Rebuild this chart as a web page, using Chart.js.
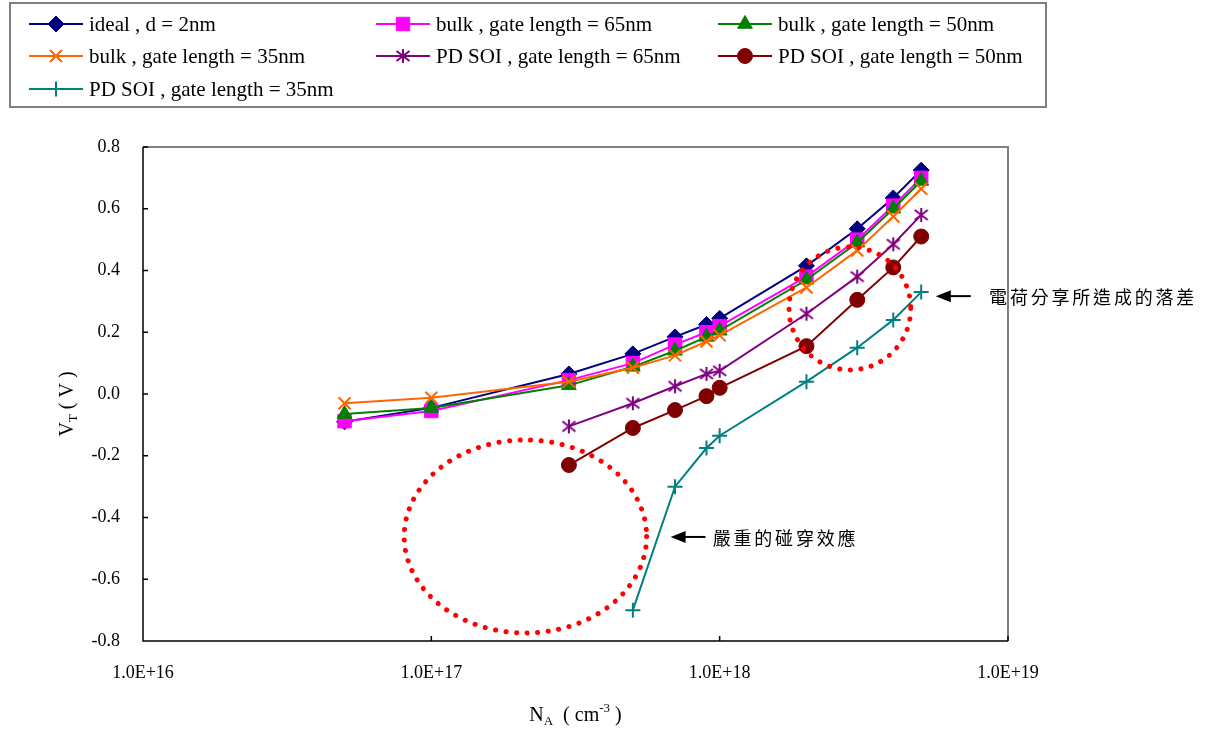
<!DOCTYPE html>
<html>
<head>
<meta charset="utf-8">
<script src="https://cdn.jsdelivr.net/npm/chart.js@4/dist/chart.umd.min.js"></script>
<style>
  html, body { margin: 0; padding: 0; background: #fff; }
  canvas { display: block; }
</style>
</head>
<body>
<canvas id="vtChart" width="1215" height="731"></canvas>
<script>
// doping concentration (cm^-3)
const nA = [5e16, 1e17, 3e17, 5e17, 7e17, 9e17, 1e18, 2e18, 3e18, 4e18, 5e18];
const xTicks = [1e16, 1e17, 1e18, 1e19];
const yTicks = [-0.8, -0.6, -0.4, -0.2, 0, 0.2, 0.4, 0.6, 0.8];

// threshold voltage (V)
const ideal  = [-0.09, -0.045, 0.065, 0.13, 0.185, 0.225, 0.245, 0.415, 0.535, 0.635, 0.725];
const bulk65 = [-0.088, -0.055, 0.045, 0.10, 0.16, 0.20, 0.22, 0.38, 0.50, 0.61, 0.70];
const bulk50 = [-0.065, -0.045, 0.028, 0.088, 0.14, 0.185, 0.205, 0.37, 0.49, 0.60, 0.69];
const bulk35 = [-0.03, -0.012, 0.04, 0.085, 0.125, 0.17, 0.19, 0.345, 0.465, 0.575, 0.665];
const soi65  = [null, null, -0.105, -0.03, 0.025, 0.065, 0.075, 0.26, 0.38, 0.485, 0.58];
const soi50  = [null, null, -0.23, -0.11, -0.052, -0.007, 0.02, 0.155, 0.305, 0.41, 0.51];
const soi35  = [null, null, null, -0.70, -0.30, -0.175, -0.135, 0.04, 0.15, 0.24, 0.33];

const labels = [
  "ideal , d = 2nm",
  "bulk , gate length = 65nm",
  "bulk , gate length = 50nm",
  "bulk , gate length = 35nm",
  "PD SOI , gate length = 65nm",
  "PD SOI , gate length = 50nm",
  "PD SOI , gate length = 35nm"
];

// annotations, in data units
const bigRing = { x0: 8.05e16, x1: 5.58e17, y0: -0.149, y1: -0.774 };
const smallRing = { x0: 1.74e18, x1: 4.6e18, y0: 0.476, y1: 0.078 };
const note1 = { tip: 5.62e18, tail: 7.43e18, text: 8.6e18, y: 0.317, label: "電荷分享所造成的落差" };
const note2 = { tip: 6.76e17, tail: 8.93e17, text: 9.46e17, y: -0.463, label: "嚴重的碰穿效應" };

function makeStar(color) {
  const c = document.createElement("canvas");
  c.width = 16;
  c.height = 16;
  const g = c.getContext("2d");
  g.strokeStyle = color;
  g.lineWidth = 2;
  g.beginPath();
  g.moveTo(8, 1); g.lineTo(8, 15);
  g.moveTo(1.5, 3); g.lineTo(14.5, 13);
  g.moveTo(14.5, 3); g.lineTo(1.5, 13);
  g.stroke();
  return c;
}

function pts(vals) {
  const out = [];
  vals.forEach((v, i) => { if (v !== null) out.push({ x: nA[i], y: v }); });
  return out;
}

const styles = [
  { color: "#000080", pointStyle: "rectRot", radius: 8 },
  { color: "#FF00FF", pointStyle: "rect", radius: 9.5 },
  { color: "#008000", pointStyle: "triangle", radius: 8.5 },
  { color: "#FF6600", pointStyle: "crossRot", radius: 8.5 },
  { color: "#800080", pointStyle: makeStar("#800080"), radius: 8 },
  { color: "#800000", pointStyle: "circle", radius: 7.5 },
  { color: "#008080", pointStyle: "cross", radius: 7.5 }
];
const series = [ideal, bulk65, bulk50, bulk35, soi65, soi50, soi35];

const datasets = series.map((s, i) => ({
  label: labels[i],
  data: pts(s),
  borderColor: styles[i].color,
  backgroundColor: styles[i].color,
  borderWidth: 2,
  pointStyle: styles[i].pointStyle,
  pointRadius: styles[i].radius,
  pointBorderWidth: (styles[i].pointStyle === "cross" || styles[i].pointStyle === "crossRot") ? 2 : 1,
  pointBorderColor: styles[i].color,
  pointBackgroundColor: styles[i].color,
  tension: 0,
  fill: false,
  order: 10 - i,
  clip: false
}));

const SERIF = "'Liberation Serif', 'Times New Roman', serif";
const CJK = "'Noto Sans CJK TC', 'Noto Sans CJK SC', sans-serif";

const framePlugin = {
  id: "frame",
  beforeDatasetsDraw(chart) {
    const { ctx, chartArea: a, scales } = chart;
    ctx.save();
    ctx.lineWidth = 2;
    ctx.strokeStyle = "#808080";
    ctx.beginPath();
    ctx.moveTo(a.left, a.top); ctx.lineTo(a.right, a.top); ctx.lineTo(a.right, a.bottom);
    ctx.stroke();
    ctx.strokeStyle = "#000";
    ctx.lineWidth = 1.5;
    ctx.beginPath();
    ctx.moveTo(a.left, a.top); ctx.lineTo(a.left, a.bottom); ctx.lineTo(a.right, a.bottom);
    yTicks.forEach((v) => {
      const y = scales.y.getPixelForValue(v);
      ctx.moveTo(a.left, y); ctx.lineTo(a.left + 5, y);
    });
    xTicks.forEach((v) => {
      const x = scales.x.getPixelForValue(v);
      ctx.moveTo(x, a.bottom); ctx.lineTo(x, a.bottom - 5);
    });
    ctx.stroke();
    ctx.restore();
  }
};

function dottedEllipse(ctx, chart, r) {
  const sx = chart.scales.x, sy = chart.scales.y;
  const x0 = sx.getPixelForValue(r.x0), x1 = sx.getPixelForValue(r.x1);
  const y0 = sy.getPixelForValue(r.y0), y1 = sy.getPixelForValue(r.y1);
  ctx.save();
  ctx.strokeStyle = "#FF0000";
  ctx.lineWidth = 5;
  ctx.lineCap = "round";
  ctx.setLineDash([0.1, 10.5]);
  ctx.beginPath();
  ctx.ellipse((x0 + x1) / 2, (y0 + y1) / 2, Math.abs(x1 - x0) / 2, Math.abs(y1 - y0) / 2, 0, 0, Math.PI * 2);
  ctx.stroke();
  ctx.restore();
}

function arrowNote(ctx, chart, n) {
  const sx = chart.scales.x, sy = chart.scales.y;
  const tip = sx.getPixelForValue(n.tip), tail = sx.getPixelForValue(n.tail);
  const tx = sx.getPixelForValue(n.text), y = sy.getPixelForValue(n.y);
  ctx.save();
  ctx.strokeStyle = "#000";
  ctx.fillStyle = "#000";
  ctx.lineWidth = 2;
  ctx.beginPath();
  ctx.moveTo(tip + 12, y); ctx.lineTo(tail, y);
  ctx.stroke();
  ctx.beginPath();
  ctx.moveTo(tip, y); ctx.lineTo(tip + 15, y - 6); ctx.lineTo(tip + 15, y + 6);
  ctx.closePath();
  ctx.fill();
  ctx.font = "18px " + CJK;
  ctx.textBaseline = "middle";
  [...n.label].forEach((ch, i) => ctx.fillText(ch, tx + i * 20.8, y + 1));
  ctx.restore();
}

const notesPlugin = {
  id: "notes",
  afterDatasetsDraw(chart) {
    const ctx = chart.ctx;
    dottedEllipse(ctx, chart, bigRing);
    dottedEllipse(ctx, chart, smallRing);
    arrowNote(ctx, chart, note1);
    arrowNote(ctx, chart, note2);
  }
};

const legendPlugin = {
  id: "boxLegend",
  afterDraw(chart) {
    const ctx = chart.ctx;
    ctx.save();
    ctx.strokeStyle = "#7f7f7f";
    ctx.lineWidth = 2;
    ctx.strokeRect(10, 3, 1036, 104);
    const cols = [29, 376, 718];
    const rows = [24, 56, 89];
    chart.data.datasets.forEach((ds, i) => {
      const x = cols[i % 3], y = rows[Math.floor(i / 3)];
      ctx.strokeStyle = ds.borderColor;
      ctx.lineWidth = 2;
      ctx.beginPath();
      ctx.moveTo(x, y); ctx.lineTo(x + 54, y);
      ctx.stroke();
      ctx.fillStyle = ds.pointBackgroundColor;
      ctx.strokeStyle = ds.pointBorderColor;
      ctx.lineWidth = ds.pointBorderWidth;
      Chart.helpers.drawPoint(ctx, {
        pointStyle: ds.pointStyle, radius: ds.pointRadius, rotation: 0, borderWidth: ds.pointBorderWidth
      }, x + 27, y);
      ctx.fillStyle = "#000";
      ctx.font = "21px " + SERIF;
      ctx.textBaseline = "middle";
      ctx.fillText(ds.label, x + 60, y + 1);
    });
    ctx.restore();
  }
};

function runs(ctx, parts, x, y) {
  // parts: [text, size, dy]
  let w = 0;
  parts.forEach((p) => { ctx.font = p[1] + "px " + SERIF; w += ctx.measureText(p[0]).width; });
  let cx = x - w / 2;
  parts.forEach((p) => {
    ctx.font = p[1] + "px " + SERIF;
    ctx.fillText(p[0], cx, y + p[2]);
    cx += ctx.measureText(p[0]).width;
  });
}

const titlesPlugin = {
  id: "axisTitles",
  afterDraw(chart) {
    const ctx = chart.ctx, a = chart.chartArea;
    ctx.save();
    ctx.fillStyle = "#000";
    ctx.textBaseline = "alphabetic";
    runs(ctx, [["N", 20, 0], ["A", 13, 4], ["  ( cm", 20, 0], ["-3", 13, -9], [" )", 20, 0]], (a.left + a.right) / 2, 721);
    ctx.translate(73, 404);
    ctx.rotate(-Math.PI / 2);
    runs(ctx, [["V", 20, 0], ["T", 13, 4], [" ( V )", 20, 0]], 0, 0);
    ctx.restore();
  }
};

const ctx = document.getElementById("vtChart").getContext("2d");
new Chart(ctx, {
  type: "line",
  data: { datasets },
  options: {
    responsive: false,
    animation: false,
    devicePixelRatio: 1,
    layout: { padding: { top: 147, right: 207, left: 0, bottom: 0 } },
    plugins: { legend: { display: false }, tooltip: { enabled: false } },
    scales: {
      x: {
        type: "logarithmic",
        min: 1e16,
        max: 1e19,
        afterBuildTicks: (s) => { s.ticks = xTicks.map((v) => ({ value: v })); },
        afterFit: (s) => { s.height = 90; },
        grid: { display: false, drawTicks: false },
        border: { display: false },
        ticks: {
          autoSkip: false,
          maxRotation: 0,
          padding: 21,
          color: "#000",
          font: { family: SERIF, size: 18 },
          callback: (v) => "1.0E+" + Math.round(Math.log10(v))
        }
      },
      y: {
        min: -0.8,
        max: 0.8,
        afterBuildTicks: (s) => { s.ticks = yTicks.map((v) => ({ value: v })); },
        afterFit: (s) => { s.width = 143; },
        grid: { display: false, drawTicks: false },
        border: { display: false },
        ticks: {
          padding: 23,
          color: "#000",
          font: { family: SERIF, size: 18 },
          callback: (v) => (Math.abs(v) < 1e-9 ? "0.0" : Number(v).toFixed(1))
        }
      }
    }
  },
  plugins: [framePlugin, notesPlugin, legendPlugin, titlesPlugin]
});
</script>
</body>
</html>
